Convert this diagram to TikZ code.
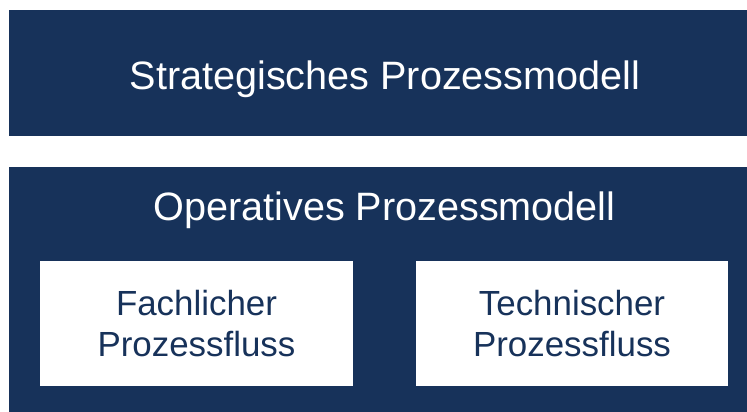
\documentclass[tikz,border=0pt]{standalone}
\usepackage{fontspec}
\setmainfont{Liberation Sans}
\definecolor{navy}{HTML}{17325A}
\begin{document}
\begin{tikzpicture}[x=1pt,y=-1pt,
  bluebox/.style={fill=navy,draw=none},
  whitebox/.style={fill=white,draw=none},
  bigtext/.style={text=white,font=\fontsize{39.6}{47}\selectfont,inner sep=0pt,anchor=base},
  smalltext/.style={text=navy,font=\fontsize{34.9}{41}\selectfont,align=center,inner sep=0pt}]
\fill[white] (0,0) rectangle (747,412);
\useasboundingbox (0,0) rectangle (747,412);
\path[bluebox] (9,10) rectangle (747,136);
\node[bigtext] (strat) at (385,89) {Strategisches Prozessmodell};
\path[bluebox] (9,167) rectangle (747,412);
\node[bigtext] (oper) at (384.5,220.5) {Operatives Prozessmodell};
\path[whitebox] (40,261) rectangle (353,386);
\node[smalltext] (fach) at (196.5,323.5) {Fachlicher\\Prozessfluss};
\path[whitebox] (416,261) rectangle (728,386);
\node[smalltext] (tech) at (572,323.5) {Technischer\\Prozessfluss};
\end{tikzpicture}
\end{document}
